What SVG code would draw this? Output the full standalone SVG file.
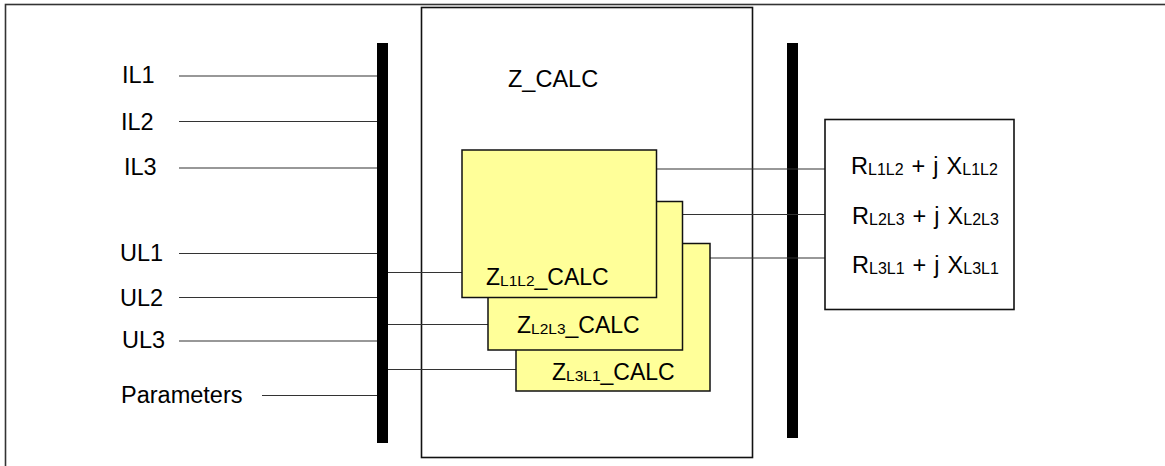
<svg xmlns="http://www.w3.org/2000/svg" width="1165" height="466" viewBox="0 0 1165 466">
<style>
text{font-family:"Liberation Sans",Arial,sans-serif;font-size:23.5px;fill:#000}
.yl{font-size:23px}
.sub{font-size:15.5px}
.rt{font-size:23.5px;word-spacing:1.5px}
.rt .sub{font-size:16px}
.wire{stroke:#333;stroke-width:1.2;fill:none}
.bus{fill:#000}
.yb{fill:#ffff99;stroke:#111;stroke-width:1.5}
.box{fill:#fff;stroke:#111;stroke-width:1.6}
</style>
<rect x="5.5" y="4.5" width="1170" height="480" fill="#fff" stroke="#333" stroke-width="1.6"/>
<g id="zcalc">
<rect class="box" x="421.5" y="7.5" width="331" height="450"/>
<text x="508" y="87">Z_CALC</text>
</g>
<g id="bus-left"><rect class="bus" x="377" y="43" width="11" height="400"/></g>
<g id="bus-right"><rect class="bus" x="787" y="43" width="11" height="395"/></g>
<g id="connectors">
<line class="wire" x1="179" y1="76" x2="377" y2="76"/>
<line class="wire" x1="179" y1="121.5" x2="377" y2="121.5"/>
<line class="wire" x1="179" y1="168" x2="377" y2="168"/>
<line class="wire" x1="179" y1="253.5" x2="377" y2="253.5"/>
<line class="wire" x1="179" y1="297.5" x2="377" y2="297.5"/>
<line class="wire" x1="179" y1="341" x2="377" y2="341"/>
<line class="wire" x1="262" y1="395.5" x2="377" y2="395.5"/>
<line class="wire" x1="388" y1="272.5" x2="462" y2="272.5"/>
<line class="wire" x1="388" y1="324.5" x2="488" y2="324.5"/>
<line class="wire" x1="388" y1="369.5" x2="516" y2="369.5"/>
<line class="wire" x1="657" y1="169" x2="825" y2="169"/>
<line class="wire" x1="682" y1="214.5" x2="825" y2="214.5"/>
<line class="wire" x1="710" y1="258" x2="825" y2="258"/>
</g>
<g id="inputs">
<text x="122" y="83">IL1</text>
<text x="121" y="130">IL2</text>
<text x="124" y="175">IL3</text>
<text x="120" y="261">UL1</text>
<text x="120" y="306">UL2</text>
<text x="122" y="348">UL3</text>
<text x="121" y="403">Parameters</text>
</g>
<g id="z3">
<rect class="yb" x="516" y="243.5" width="194" height="147.5"/>
<text class="yl" x="552" y="380">Z<tspan class="sub" dy="1">L3L1</tspan><tspan dy="-1">_CALC</tspan></text>
</g>
<g id="z2">
<rect class="yb" x="488" y="201.5" width="194.5" height="148.5"/>
<text class="yl" x="517" y="333">Z<tspan class="sub" dy="1">L2L3</tspan><tspan dy="-1">_CALC</tspan></text>
</g>
<g id="z1">
<rect class="yb" x="462" y="150" width="194.5" height="147.5"/>
<text class="yl" x="486" y="285">Z<tspan class="sub" dy="1">L1L2</tspan><tspan dy="-1">_CALC</tspan></text>
</g>
<g id="result">
<rect class="box" x="825" y="119.5" width="189" height="190"/>
<text class="rt" x="851" y="174">R<tspan class="sub" dy="1">L1L2</tspan><tspan dy="-1"> + j X</tspan><tspan class="sub" dy="1">L1L2</tspan></text>
<text class="rt" x="852" y="224">R<tspan class="sub" dy="1">L2L3</tspan><tspan dy="-1"> + j X</tspan><tspan class="sub" dy="1">L2L3</tspan></text>
<text class="rt" x="852" y="273">R<tspan class="sub" dy="1">L3L1</tspan><tspan dy="-1"> + j X</tspan><tspan class="sub" dy="1">L3L1</tspan></text>
</g>
</svg>
